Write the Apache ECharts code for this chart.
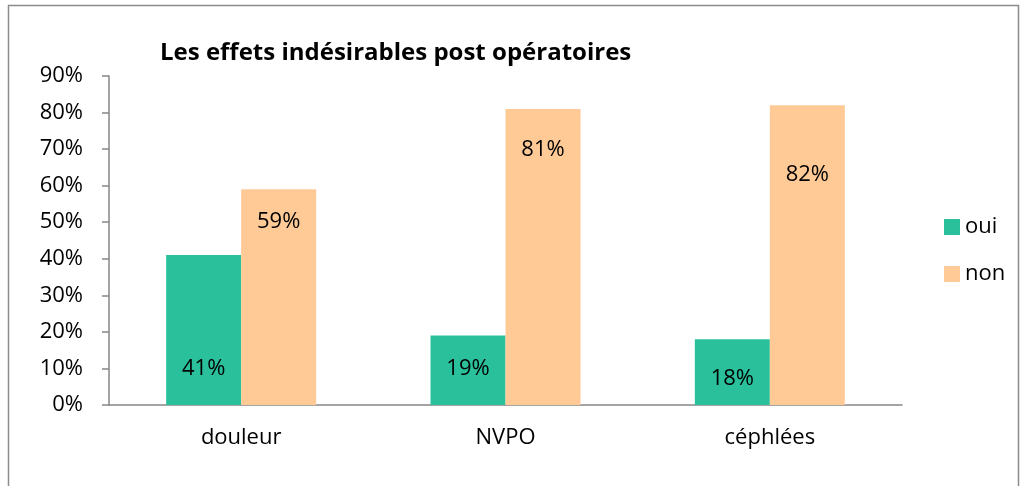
<!DOCTYPE html>
<html>
<head>
<meta charset="utf-8">
<script src="https://cdn.jsdelivr.net/npm/echarts@6/dist/echarts.min.js"></script>
<style>
  html, body { margin: 0; padding: 0; background: #fff; }
  #chart { width: 1026px; height: 486px; }
</style>
</head>
<body>
<div id="chart"></div>
<script>
// données
const categories = ['douleur', 'NVPO', 'céphlées'];
const ouiValues = [41, 19, 18];
const nonValues = [59, 81, 82];
const seriesNames = ['oui', 'non'];

// décalage des étiquettes (déplacées à la main dans l'original)
const ouiLabelDist = [25, 25, 15];
const nonLabelDist = [21, 30, 58];

const FONT = '"Open Sans", sans-serif';
const AXIS = '#868686';
const FS = 22;

var chart = echarts.init(document.getElementById('chart'));
chart.setOption({
  animation: false,
  textStyle: { fontFamily: FONT },
  title: {
    text: 'Les effets indésirables post opératoires',
    left: 155, top: 36,
    textStyle: { fontFamily: FONT, fontSize: 24, fontWeight: 'bold', color: '#000' }
  },
  legend: {
    orient: 'vertical',
    left: 939, top: 211,
    itemWidth: 16, itemHeight: 16, itemGap: 25,
    icon: 'rect',
    textStyle: { fontFamily: FONT, fontSize: FS, color: '#000' },
    data: seriesNames
  },
  grid: { left: 109, right: 124, top: 76, bottom: 81, containLabel: false },
  xAxis: {
    type: 'category',
    data: categories,
    axisLine: { lineStyle: { color: AXIS, width: 1.5 } },
    axisTick: { length: 7, lineStyle: { color: AXIS, width: 1.5 } },
    axisLabel: { margin: 22, fontSize: FS, color: '#000', fontFamily: FONT }
  },
  yAxis: {
    type: 'value',
    min: 0, max: 90, interval: 10,
    axisLine: { show: true, lineStyle: { color: AXIS, width: 1.5 } },
    axisTick: { show: true, length: 7, lineStyle: { color: AXIS, width: 1.5 } },
    splitLine: { show: false },
    axisLabel: { formatter: '{value}%', margin: 26, fontSize: FS, color: '#000', fontFamily: FONT }
  },
  series: [
    {
      name: 'oui', type: 'bar', barWidth: 75, barGap: '0%',
      itemStyle: { color: '#2BC09C' },
      data: ouiValues.map((v, i) => ({
        value: v,
        label: { show: true, position: 'insideBottom', distance: ouiLabelDist[i] }
      })),
      label: { formatter: '{c}%', fontSize: FS, color: '#000', fontFamily: FONT }
    },
    {
      name: 'non', type: 'bar', barWidth: 75, barGap: '0%',
      itemStyle: { color: '#FFCA96' },
      data: nonValues.map((v, i) => ({
        value: v,
        label: { show: true, position: 'insideTop', distance: nonLabelDist[i] }
      })),
      label: { formatter: '{c}%', fontSize: FS, color: '#000', fontFamily: FONT }
    }
  ],
  graphic: [{
    type: 'rect',
    shape: { x: 8.5, y: 5.5, width: 1010, height: 490 },
    style: { fill: 'none', stroke: '#8c8c8c', lineWidth: 1.5 },
    silent: true
  }]
});
</script>
</body>
</html>
